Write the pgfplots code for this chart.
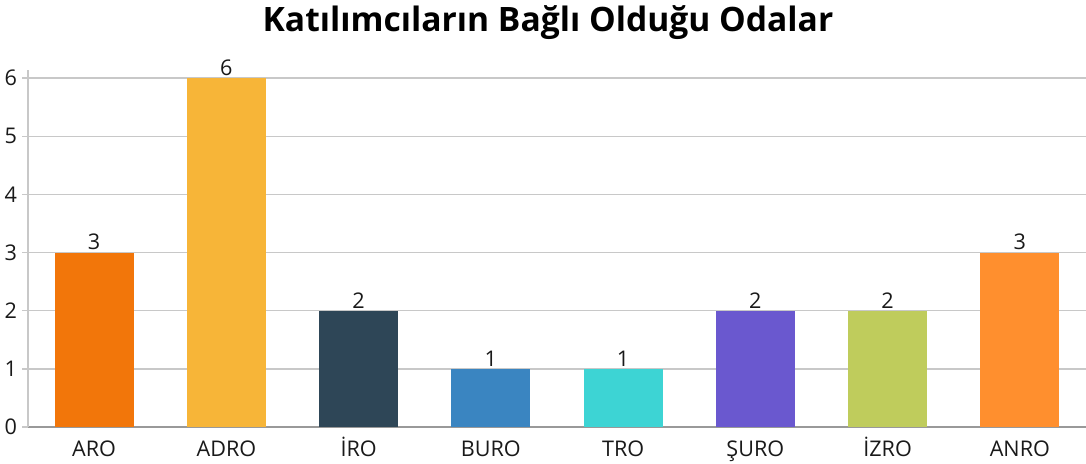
\documentclass[border=0pt]{standalone}
\usepackage{fontspec}
\setmainfont{Open Sans}
\usepackage{pgfplots}
\pgfplotsset{compat=1.18}

\definecolor{cAro}{HTML}{F2760A}
\definecolor{cAdro}{HTML}{F7B538}
\definecolor{cIro}{HTML}{2E4657}
\definecolor{cBuro}{HTML}{3A85C1}
\definecolor{cTro}{HTML}{3DD4D4}
\definecolor{cSuro}{HTML}{6A58CF}
\definecolor{cIzro}{HTML}{BFCC5C}
\definecolor{cAnro}{HTML}{FF8F2E}
\definecolor{gridc}{HTML}{C8C8C8}

\begin{document}
\begin{tikzpicture}
% page box: 1086x464 px at 0.5pt per px, axis origin at px (28,427)
\path[use as bounding box] (-14pt,-18.5pt) rectangle (529pt,213.5pt);
\begin{axis}[
    at={(0,0)}, anchor=south west,
    scale only axis,
    width=529pt, height=178.5pt,
    ybar, bar width=39.5pt,
    xmin=-0.5, xmax=7.5,
    ymin=0, ymax=6.14,
    xtick={0,...,7},
    xticklabels={ARO,ADRO,İRO,BURO,TRO,ŞURO,İZRO,ANRO},
    ytick={0,...,6},
    x tick style={draw=none},
    y tick style={draw=gridc, line width=0.75pt},
    tick align=outside,
    major tick length=3pt,
    ymajorgrids,
    grid style={draw=gridc, line width=0.75pt},
    axis x line*=bottom,
    axis y line*=left,
    x axis line style={draw=black!40, line width=0.75pt, -},
    y axis line style={draw=gridc, line width=0.75pt, -},
    tick label style={font=\fontsize{10.8}{12}\selectfont, text=black!90},
    xticklabel style={text height=8pt, text depth=2pt, yshift=0pt},
    yticklabel style={xshift=1pt},
    /pgf/number format/assume math mode=true,
    nodes near coords,
    nodes near coords style={text=black!90, font=\fontsize{10.8}{12}\selectfont, anchor=south, inner sep=1pt},
    title={\textbf{Katılımcıların Bağlı Olduğu Odalar}},
    title style={font=\fontsize{16.8}{19}\selectfont, at={(axis description cs:0.4915,1.10)}, anchor=center},
    clip=false,
]
\addplot[fill=cAro, draw=none, bar shift=0pt] coordinates {(0,3)};
\addplot[fill=cAdro, draw=none, bar shift=0pt] coordinates {(1,6)};
\addplot[fill=cIro, draw=none, bar shift=0pt] coordinates {(2,2)};
\addplot[fill=cBuro, draw=none, bar shift=0pt] coordinates {(3,1)};
\addplot[fill=cTro, draw=none, bar shift=0pt] coordinates {(4,1)};
\addplot[fill=cSuro, draw=none, bar shift=0pt] coordinates {(5,2)};
\addplot[fill=cIzro, draw=none, bar shift=0pt] coordinates {(6,2)};
\addplot[fill=cAnro, draw=none, bar shift=0pt] coordinates {(7,3)};
\end{axis}
\end{tikzpicture}
\end{document}
